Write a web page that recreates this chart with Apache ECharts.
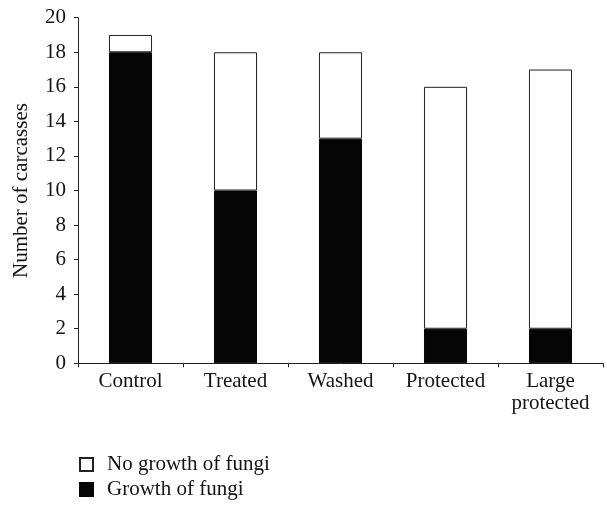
<!DOCTYPE html>
<html>
<head>
<meta charset="utf-8">
<script src="https://cdn.jsdelivr.net/npm/echarts@6/dist/echarts.min.js"></script>
<style>
html,body{margin:0;padding:0;background:#fff;}
#chart{width:607px;height:506px;}
</style>
</head>
<body>
<div id="chart"></div>
<script>
const categories = ['Control', 'Treated', 'Washed', 'Protected', 'Large\nprotected'];
const growth = [18, 10, 13, 2, 2];
const noGrowth = [1, 8, 5, 14, 15];
const seriesNames = ['No growth of fungi', 'Growth of fungi'];

const FONT = '"Liberation Serif", "Times New Roman", serif';
const TXT = '#141414';

const chart = echarts.init(document.getElementById('chart'), null, {renderer: 'canvas'});
chart.setOption({
  animation: false,
  backgroundColor: '#fff',
  textStyle: {fontFamily: FONT, color: TXT},
  grid: {left: 78, right: 4, top: 17.7, bottom: 142.7, containLabel: false},
  legend: {
    data: seriesNames,
    orient: 'vertical',
    left: 79,
    top: 454,
    padding: 0,
    icon: 'rect',
    itemWidth: 13,
    itemHeight: 13,
    itemGap: 4,
    textStyle: {fontFamily: FONT, fontSize: 21, color: TXT, lineHeight: 21, padding: [0, 0, 0, 9]}
  },
  xAxis: {
    type: 'category',
    data: categories,
    boundaryGap: true,
    axisLine: {show: true, lineStyle: {color: '#222', width: 1}},
    axisTick: {show: true, length: 4, inside: false, alignWithLabel: false, lineStyle: {color: '#222'}},
    axisLabel: {fontFamily: FONT, fontSize: 21, color: TXT, margin: 7, lineHeight: 22, interval: 0}
  },
  yAxis: {
    type: 'value',
    min: 0, max: 20, interval: 2,
    name: 'Number of carcasses',
    nameLocation: 'middle',
    nameRotate: 90,
    nameGap: 46,
    nameTextStyle: {fontFamily: FONT, fontSize: 21, color: TXT},
    axisLine: {show: true, lineStyle: {color: '#222', width: 1}},
    axisTick: {show: true, length: 4, inside: false, lineStyle: {color: '#222'}},
    splitLine: {show: false},
    axisLabel: {fontFamily: FONT, fontSize: 21, color: TXT, margin: 12}
  },
  series: [
    {
      name: seriesNames[1],
      type: 'bar',
      stack: 'total',
      data: growth,
      barWidth: '41%',
      itemStyle: {color: '#050505', borderColor: '#050505', borderWidth: 1}
    },
    {
      name: seriesNames[0],
      type: 'bar',
      stack: 'total',
      data: noGrowth,
      barWidth: '41%',
      itemStyle: {color: '#ffffff', borderColor: '#222', borderWidth: 1}
    }
  ]
});
</script>
</body>
</html>
